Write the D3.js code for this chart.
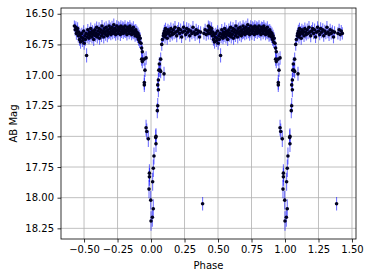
<!DOCTYPE html>
<html>
<head>
<meta charset="utf-8">
<script src="https://cdn.jsdelivr.net/npm/d3@7/dist/d3.min.js"></script>
<style>
  html, body { margin: 0; padding: 0; background: #fff; }
  svg { display: block; font-family: "DejaVu Sans", sans-serif; }
</style>
</head>
<body>
<div id="chart"></div>
<script>
// one folded cycle, [phase, AB mag, error]; drawn twice (phase and phase + 1)
const outOfEclipseBefore = [
  [-0.572, 16.60, 0.045], [-0.566, 16.63, 0.050], [-0.561, 16.61, 0.048], [-0.557, 16.66, 0.052],
  [-0.552, 16.64, 0.046], [-0.548, 16.62, 0.050], [-0.543, 16.68, 0.054], [-0.539, 16.65, 0.048],
  [-0.534, 16.71, 0.051], [-0.530, 16.67, 0.047], [-0.526, 16.73, 0.055], [-0.521, 16.69, 0.049],
  [-0.517, 16.66, 0.046], [-0.512, 16.72, 0.052], [-0.508, 16.70, 0.050], [-0.503, 16.64, 0.047],
  [-0.499, 16.74, 0.054], [-0.494, 16.68, 0.049], [-0.490, 16.71, 0.051], [-0.485, 16.66, 0.046],
  [-0.481, 16.84, 0.058], [-0.477, 16.69, 0.050], [-0.472, 16.63, 0.047], [-0.468, 16.67, 0.052],
  [-0.463, 16.70, 0.049], [-0.459, 16.65, 0.046], [-0.455, 16.68, 0.051], [-0.450, 16.62, 0.048],
  [-0.446, 16.66, 0.050], [-0.441, 16.69, 0.053], [-0.437, 16.64, 0.047], [-0.432, 16.67, 0.049],
  [-0.428, 16.71, 0.052], [-0.424, 16.65, 0.046], [-0.419, 16.63, 0.050], [-0.415, 16.68, 0.048],
  [-0.410, 16.66, 0.051], [-0.406, 16.61, 0.047], [-0.401, 16.69, 0.053], [-0.397, 16.64, 0.049],
  [-0.393, 16.67, 0.046], [-0.388, 16.62, 0.050], [-0.384, 16.70, 0.052], [-0.379, 16.65, 0.048],
  [-0.375, 16.63, 0.047], [-0.370, 16.68, 0.051], [-0.366, 16.60, 0.049], [-0.362, 16.66, 0.046],
  [-0.357, 16.64, 0.050], [-0.353, 16.69, 0.053], [-0.348, 16.62, 0.048], [-0.344, 16.65, 0.047],
  [-0.339, 16.67, 0.051], [-0.335, 16.61, 0.049], [-0.331, 16.64, 0.046], [-0.326, 16.68, 0.052],
  [-0.322, 16.63, 0.050], [-0.317, 16.66, 0.048], [-0.313, 16.60, 0.047], [-0.309, 16.65, 0.051],
  [-0.304, 16.62, 0.049], [-0.300, 16.67, 0.046], [-0.295, 16.64, 0.050], [-0.291, 16.61, 0.052],
  [-0.286, 16.66, 0.048], [-0.282, 16.63, 0.047], [-0.278, 16.59, 0.051], [-0.273, 16.65, 0.049],
  [-0.269, 16.62, 0.046], [-0.264, 16.67, 0.050], [-0.260, 16.64, 0.053], [-0.256, 16.60, 0.048],
  [-0.251, 16.63, 0.047], [-0.247, 16.66, 0.051], [-0.242, 16.61, 0.049], [-0.238, 16.64, 0.046],
  [-0.233, 16.62, 0.050], [-0.229, 16.67, 0.052], [-0.225, 16.60, 0.048], [-0.220, 16.65, 0.047],
  [-0.216, 16.63, 0.051], [-0.211, 16.61, 0.049], [-0.207, 16.66, 0.046], [-0.203, 16.62, 0.050],
  [-0.198, 16.64, 0.052], [-0.194, 16.60, 0.048], [-0.189, 16.65, 0.047], [-0.185, 16.63, 0.051],
  [-0.180, 16.67, 0.049], [-0.176, 16.61, 0.046], [-0.172, 16.64, 0.050], [-0.167, 16.62, 0.053],
  [-0.163, 16.66, 0.048], [-0.158, 16.60, 0.047], [-0.154, 16.64, 0.051], [-0.150, 16.62, 0.049],
  [-0.145, 16.67, 0.046], [-0.141, 16.63, 0.050], [-0.136, 16.65, 0.052], [-0.132, 16.61, 0.048],
  [-0.128, 16.66, 0.047], [-0.123, 16.64, 0.051], [-0.119, 16.68, 0.049], [-0.114, 16.63, 0.046],
  [-0.110, 16.67, 0.050], [-0.106, 16.65, 0.052], [-0.101, 16.69, 0.048], [-0.097, 16.66, 0.047],
  [-0.093, 16.71, 0.051], [-0.089, 16.68, 0.049], [-0.085, 16.73, 0.050], [-0.081, 16.70, 0.048]
];

const eclipse = [
  [-0.075, 16.74, 0.050], [-0.070, 16.78, 0.052], [-0.065, 16.81, 0.051], [-0.070, 16.87, 0.054],
  [-0.052, 16.87, 0.053], [-0.037, 16.86, 0.055], [-0.065, 16.89, 0.054], [-0.045, 16.96, 0.056],
  [-0.050, 17.06, 0.060], [-0.050, 17.08, 0.059], [-0.037, 17.43, 0.065], [-0.032, 17.46, 0.066],
  [-0.020, 17.52, 0.067], [-0.012, 17.80, 0.072], [-0.012, 17.83, 0.073], [-0.015, 17.93, 0.074],
  [-0.002, 18.02, 0.076], [0.000, 18.19, 0.080], [0.010, 18.16, 0.078], [0.017, 18.09, 0.077],
  [0.012, 17.87, 0.073], [0.017, 17.76, 0.071], [0.022, 17.66, 0.070], [0.037, 17.56, 0.068],
  [0.037, 17.50, 0.067], [0.035, 17.51, 0.066], [0.047, 17.29, 0.063], [0.050, 17.25, 0.062],
  [0.055, 17.12, 0.060], [0.050, 17.08, 0.059], [0.055, 17.04, 0.058], [0.058, 16.96, 0.056],
  [0.066, 16.96, 0.056], [0.072, 16.97, 0.055], [0.097, 16.99, 0.057], [0.062, 16.91, 0.055],
  [0.072, 16.87, 0.054], [0.080, 16.75, 0.052], [0.085, 16.71, 0.051], [0.092, 16.68, 0.050]
];

const outOfEclipseAfter = [
  [0.095, 16.66, 0.048], [0.100, 16.64, 0.050], [0.104, 16.69, 0.052], [0.108, 16.62, 0.047],
  [0.112, 16.67, 0.049], [0.117, 16.65, 0.051], [0.121, 16.70, 0.053], [0.126, 16.63, 0.048],
  [0.131, 16.66, 0.050], [0.136, 16.64, 0.047], [0.142, 16.68, 0.051], [0.148, 16.62, 0.049],
  [0.153, 16.65, 0.052], [0.159, 16.67, 0.048], [0.166, 16.63, 0.050], [0.172, 16.66, 0.047],
  [0.179, 16.61, 0.051], [0.185, 16.65, 0.049], [0.192, 16.68, 0.053], [0.198, 16.64, 0.048],
  [0.206, 16.62, 0.050], [0.213, 16.66, 0.047], [0.221, 16.63, 0.051], [0.228, 16.69, 0.049],
  [0.236, 16.65, 0.052], [0.243, 16.61, 0.048], [0.251, 16.64, 0.050], [0.259, 16.67, 0.047],
  [0.266, 16.62, 0.051], [0.274, 16.65, 0.049], [0.282, 16.63, 0.053], [0.289, 16.68, 0.048],
  [0.297, 16.64, 0.050], [0.305, 16.66, 0.047], [0.313, 16.61, 0.051], [0.321, 16.65, 0.049],
  [0.329, 16.67, 0.052], [0.337, 16.63, 0.048], [0.345, 16.66, 0.050], [0.354, 16.64, 0.047],
  [0.362, 16.69, 0.051], [0.370, 16.65, 0.049], [0.385, 18.05, 0.055], [0.395, 16.66, 0.050],
  [0.404, 16.63, 0.048], [0.412, 16.67, 0.051], [0.420, 16.64, 0.049], [0.428, 16.66, 0.050]
];

const cycleOffsets = [0, 1];
const xTicks = [-0.5, -0.25, 0, 0.25, 0.5, 0.75, 1.0, 1.25, 1.5];
const yTicks = [16.5, 16.75, 17.0, 17.25, 17.5, 17.75, 18.0, 18.25];

const width = 374;
const height = 280;
const margin = { left: 61, right: 18, top: 8, bottom: 41 };

const points = [];
cycleOffsets.forEach(off => {
  [outOfEclipseBefore, eclipse, outOfEclipseAfter].forEach(arr => {
    arr.forEach(d => points.push({ phase: d[0] + off, mag: d[1], err: d[2] }));
  });
});

const svg = d3.select('#chart')
  .append('svg')
  .attr('width', width)
  .attr('height', height);

const x = d3.scaleLinear()
  .domain([-0.672, 1.530])
  .range([margin.left, width - margin.right]);

const y = d3.scaleLinear()
  .domain([16.453, 18.337])
  .range([margin.top, height - margin.bottom]);

const fmt = d => d.toFixed(2).replace('-', '\u2212');

// grid
svg.append('g')
  .selectAll('line')
  .data(xTicks)
  .join('line')
  .attr('x1', d => x(d)).attr('x2', d => x(d))
  .attr('y1', margin.top).attr('y2', height - margin.bottom)
  .attr('stroke', '#b0b0b0').attr('stroke-width', 0.8);

svg.append('g')
  .selectAll('line')
  .data(yTicks)
  .join('line')
  .attr('x1', margin.left).attr('x2', width - margin.right)
  .attr('y1', d => y(d)).attr('y2', d => y(d))
  .attr('stroke', '#b0b0b0').attr('stroke-width', 0.8);

// error bars
svg.append('g')
  .selectAll('line')
  .data(points)
  .join('line')
  .attr('x1', d => x(d.phase)).attr('x2', d => x(d.phase))
  .attr('y1', d => y(d.mag - d.err)).attr('y2', d => y(d.mag + d.err))
  .attr('stroke', 'blue')
  .attr('stroke-opacity', 0.55)
  .attr('stroke-width', 1.1);

// points
svg.append('g')
  .selectAll('circle')
  .data(points)
  .join('circle')
  .attr('cx', d => x(d.phase))
  .attr('cy', d => y(d.mag))
  .attr('r', 1.8)
  .attr('fill', '#000020');

// axes
const xAxis = svg.append('g')
  .attr('transform', `translate(0,${height - margin.bottom})`)
  .call(d3.axisBottom(x).tickValues(xTicks).tickFormat(fmt).tickSize(3.5).tickPadding(3.5));

const yAxis = svg.append('g')
  .attr('transform', `translate(${margin.left},0)`)
  .call(d3.axisLeft(y).tickValues(yTicks).tickFormat(fmt).tickSize(3.5).tickPadding(3.5));

[xAxis, yAxis].forEach(g => {
  g.select('.domain').remove();
  g.selectAll('line').attr('stroke', '#000').attr('stroke-width', 0.8);
  g.selectAll('text')
    .attr('font-size', 10)
    .attr('font-family', '"DejaVu Sans", sans-serif')
    .attr('fill', '#000');
});

// frame
svg.append('rect')
  .attr('x', margin.left).attr('y', margin.top)
  .attr('width', width - margin.left - margin.right)
  .attr('height', height - margin.top - margin.bottom)
  .attr('fill', 'none')
  .attr('stroke', '#000')
  .attr('stroke-width', 0.8);

svg.append('text')
  .attr('x', (margin.left + width - margin.right) / 2)
  .attr('y', 269)
  .attr('text-anchor', 'middle')
  .attr('font-size', 10)
  .text('Phase');

svg.append('text')
  .attr('transform', `translate(17,${(margin.top + height - margin.bottom) / 2}) rotate(-90)`)
  .attr('text-anchor', 'middle')
  .attr('font-size', 10)
  .text('AB Mag');
</script>
</body>
</html>
